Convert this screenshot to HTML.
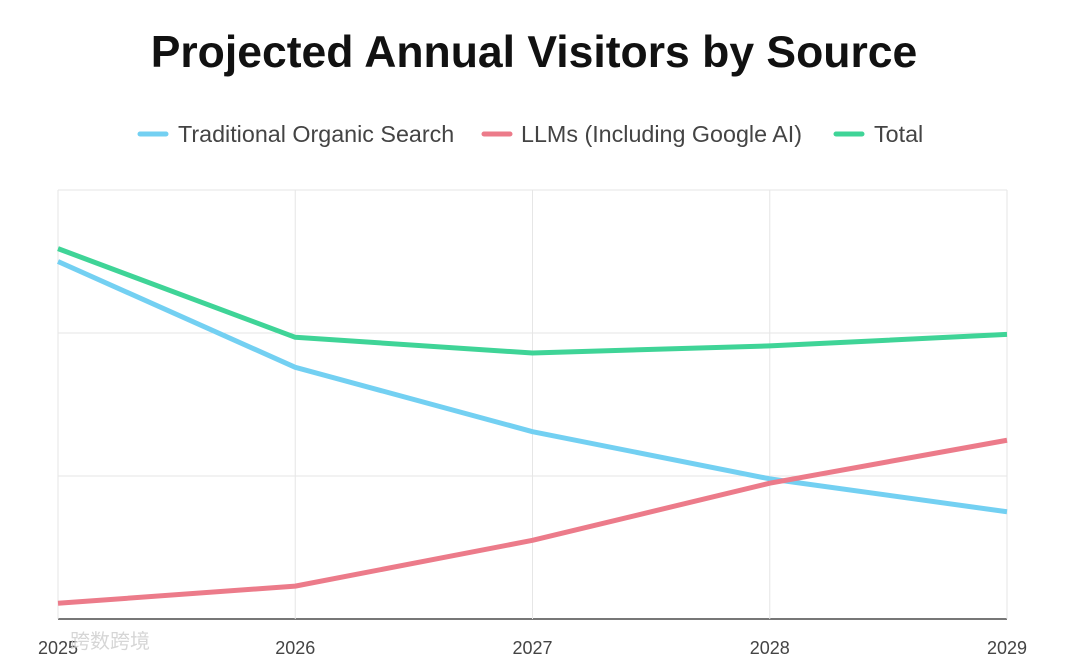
<!DOCTYPE html>
<html><head><meta charset="utf-8"><style>
body{margin:0;background:#fff;width:1080px;height:663px;overflow:hidden;font-family:"Liberation Sans","Noto Sans CJK SC",sans-serif}
</style></head><body>
<svg id="chart" width="1080" height="663" xmlns="http://www.w3.org/2000/svg">
<text x="534" y="67" text-anchor="middle" font-size="44.5" font-weight="bold" fill="#111">Projected Annual Visitors by Source</text>
<g>
<g><line x1="140" y1="134" x2="166" y2="134" stroke="#73d0f2" stroke-width="5" stroke-linecap="round"/><text x="178" y="142" font-size="23.3" fill="#444">Traditional Organic Search</text></g>
<g><line x1="484" y1="134" x2="510" y2="134" stroke="#ec7b8a" stroke-width="5" stroke-linecap="round"/><text x="521" y="142" font-size="23.3" fill="#444">LLMs (Including Google AI)</text></g>
<g><line x1="836" y1="134" x2="862" y2="134" stroke="#3fd497" stroke-width="5" stroke-linecap="round"/><text x="874" y="142" font-size="23.3" fill="#444">Total</text></g>
</g>
<g id="grid"></g><g id="series"></g><g id="xlabels"></g>
<text x="70" y="648" font-size="20" fill="#ccc" opacity="0.8">跨数跨境</text>
</svg>
<script>
const categories=["2025","2026","2027","2028","2029"];
const organic=[2.50,1.76,1.31,0.98,0.75];
const llms=[0.11,0.23,0.55,0.95,1.25];
const total=[2.59,1.97,1.86,1.91,1.99];
const yTicks=[0,1,2,3];
const NS="http://www.w3.org/2000/svg";
const L=58,R=1007,B=619,T=190,yMax=3;
const x=i=>L+(R-L)*i/(categories.length-1);
const y=v=>B-(B-T)*v/yMax;
const grid=document.getElementById('grid');
yTicks.forEach(t=>{const l=document.createElementNS(NS,'line');
l.setAttribute('x1',L);l.setAttribute('x2',R);l.setAttribute('y1',y(t));l.setAttribute('y2',y(t));
l.setAttribute('stroke',t===0?'#777':'#e6e6e6');l.setAttribute('stroke-width',t===0?2:1);

grid.appendChild(l);});
categories.forEach((c,i)=>{const l=document.createElementNS(NS,'line');
l.setAttribute('x1',x(i));l.setAttribute('x2',x(i));l.setAttribute('y1',T);l.setAttribute('y2',B);
l.setAttribute('stroke','#e6e6e6');

grid.appendChild(l);
const t=document.createElementNS(NS,'text');t.setAttribute('x',x(i));t.setAttribute('y',654);
t.setAttribute('text-anchor','middle');t.setAttribute('font-size','18');t.setAttribute('fill','#444');t.textContent=c;

document.getElementById('xlabels').appendChild(t);});
const ser=document.getElementById('series');
[[organic,'#73d0f2','organic-line'],[llms,'#ec7b8a','llms-line'],[total,'#3fd497','total-line']].forEach(([d,c,n])=>{
const p=document.createElementNS(NS,'polyline');
p.setAttribute('points',d.map((v,i)=>x(i)+','+y(v)).join(' '));
p.setAttribute('fill','none');p.setAttribute('stroke',c);p.setAttribute('stroke-width','5');p.setAttribute('stroke-linejoin','round');

ser.appendChild(p);});
</script>
</body></html>
